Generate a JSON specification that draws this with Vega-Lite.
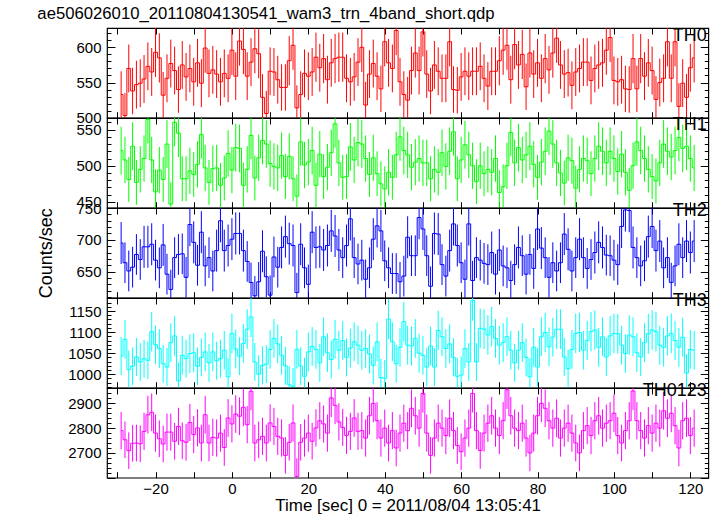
{
"$schema":"https://vega.github.io/schema/vega-lite/v6.json",
"padding":{"left":37,"top":5,"right":8,"bottom":0},
"bounds":"flush",
"title":{"text":"ae506026010_20110804130541_wam3_trn_4band_short.qdp","anchor":"start","fontSize":16.7,"font":"Liberation Sans","fontWeight":"normal","color":"black","offset":3},
"spacing":0,
"data":{"values":[
{"t":-29,"a":533,"ae":33,"b":521,"be":33,"c":695,"ce":33,"d":1043,"de":45,"s":2790,"se":75},
{"t":-28,"a":503,"ae":32,"b":508,"be":32,"c":664,"ce":32,"d":1083,"de":46,"s":2753,"se":74},
{"t":-27,"a":570,"ae":34,"b":481,"be":31,"c":651,"ce":32,"d":1011,"de":45,"s":2709,"se":74},
{"t":-26,"a":538,"ae":33,"b":527,"be":33,"c":657,"ce":32,"d":1019,"de":45,"s":2739,"se":74},
{"t":-25,"a":547,"ae":34,"b":477,"be":31,"c":677,"ce":32,"d":1041,"de":45,"s":2740,"se":74},
{"t":-24,"a":549,"ae":34,"b":495,"be":32,"c":669,"ce":32,"d":1029,"de":45,"s":2737,"se":74},
{"t":-23,"a":555,"ae":34,"b":510,"be":32,"c":689,"ce":33,"d":1037,"de":45,"s":2787,"se":75},
{"t":-22,"a":573,"ae":34,"b":564,"be":33,"c":689,"ce":33,"d":1033,"de":45,"s":2854,"se":76},
{"t":-21,"a":565,"ae":34,"b":508,"be":32,"c":693,"ce":33,"d":1101,"de":47,"s":2864,"se":76},
{"t":-20,"a":593,"ae":35,"b":464,"be":31,"c":668,"ce":32,"d":1070,"de":46,"s":2780,"se":75},
{"t":-19,"a":585,"ae":35,"b":494,"be":32,"c":656,"ce":32,"d":1061,"de":46,"s":2757,"se":74},
{"t":-18,"a":532,"ae":33,"b":481,"be":31,"c":692,"ce":33,"d":1025,"de":45,"s":2736,"se":74},
{"t":-17,"a":556,"ae":34,"b":530,"be":33,"c":646,"ce":32,"d":1017,"de":45,"s":2784,"se":75},
{"t":-16,"a":577,"ae":34,"b":447,"be":30,"c":622,"ce":31,"d":1075,"de":46,"s":2784,"se":75},
{"t":-15,"a":567,"ae":34,"b":560,"be":33,"c":672,"ce":32,"d":1091,"de":47,"s":2747,"se":74},
{"t":-14,"a":540,"ae":33,"b":545,"be":33,"c":677,"ce":32,"d":984,"de":44,"s":2807,"se":75},
{"t":-13,"a":575,"ae":34,"b":482,"be":31,"c":678,"ce":32,"d":1045,"de":46,"s":2749,"se":74},
{"t":-12,"a":558,"ae":34,"b":482,"be":31,"c":641,"ce":32,"d":1037,"de":45,"s":2743,"se":74},
{"t":-11,"a":570,"ae":34,"b":493,"be":32,"c":724,"ce":34,"d":1049,"de":46,"s":2823,"se":75},
{"t":-10,"a":551,"ae":34,"b":488,"be":31,"c":696,"ce":33,"d":1051,"de":46,"s":2774,"se":75},
{"t":-9,"a":578,"ae":34,"b":502,"be":32,"c":660,"ce":32,"d":1019,"de":45,"s":2801,"se":75},
{"t":-8,"a":549,"ae":34,"b":543,"be":33,"c":712,"ce":33,"d":1040,"de":45,"s":2740,"se":74},
{"t":-7,"a":599,"ae":35,"b":497,"be":32,"c":659,"ce":32,"d":1053,"de":46,"s":2854,"se":76},
{"t":-6,"a":563,"ae":34,"b":477,"be":31,"c":672,"ce":32,"d":1027,"de":45,"s":2740,"se":74},
{"t":-5,"a":568,"ae":34,"b":496,"be":32,"c":651,"ce":32,"d":1053,"de":46,"s":2763,"se":75},
{"t":-4,"a":562,"ae":34,"b":497,"be":32,"c":683,"ce":33,"d":1032,"de":45,"s":2760,"se":75},
{"t":-3,"a":551,"ae":34,"b":473,"be":31,"c":730,"ce":34,"d":1037,"de":45,"s":2780,"se":75},
{"t":-2,"a":563,"ae":34,"b":483,"be":31,"c":683,"ce":33,"d":1057,"de":46,"s":2722,"se":74},
{"t":-1,"a":556,"ae":34,"b":517,"be":32,"c":691,"ce":33,"d":994,"de":44,"s":2841,"se":76},
{"t":0,"a":596,"ae":35,"b":494,"be":32,"c":701,"ce":33,"d":1097,"de":47,"s":2817,"se":75},
{"t":1,"a":559,"ae":34,"b":525,"be":33,"c":710,"ce":33,"d":1060,"de":46,"s":2857,"se":76},
{"t":2,"a":609,"ae":35,"b":524,"be":33,"c":710,"ce":33,"d":1043,"de":45,"s":2848,"se":76},
{"t":3,"a":597,"ae":35,"b":473,"be":31,"c":683,"ce":33,"d":1073,"de":46,"s":2884,"se":76},
{"t":4,"a":559,"ae":34,"b":495,"be":32,"c":666,"ce":32,"d":1107,"de":47,"s":2814,"se":75},
{"t":5,"a":579,"ae":34,"b":542,"be":33,"c":633,"ce":31,"d":1136,"de":48,"s":2949,"se":77},
{"t":6,"a":598,"ae":35,"b":483,"be":31,"c":612,"ce":31,"d":1029,"de":45,"s":2740,"se":74},
{"t":7,"a":591,"ae":35,"b":511,"be":32,"c":634,"ce":31,"d":1000,"de":45,"s":2753,"se":74},
{"t":8,"a":529,"ae":33,"b":535,"be":33,"c":682,"ce":33,"d":1021,"de":45,"s":2767,"se":75},
{"t":9,"a":506,"ae":32,"b":530,"be":33,"c":642,"ce":32,"d":1024,"de":45,"s":2740,"se":74},
{"t":10,"a":566,"ae":34,"b":503,"be":32,"c":613,"ce":31,"d":1059,"de":46,"s":2821,"se":75},
{"t":11,"a":565,"ae":34,"b":499,"be":32,"c":673,"ce":32,"d":1085,"de":46,"s":2807,"se":75},
{"t":12,"a":554,"ae":34,"b":497,"be":32,"c":657,"ce":32,"d":1072,"de":46,"s":2767,"se":75},
{"t":13,"a":543,"ae":33,"b":514,"be":32,"c":688,"ce":33,"d":1045,"de":46,"s":2760,"se":75},
{"t":14,"a":543,"ae":33,"b":485,"be":31,"c":705,"ce":33,"d":1020,"de":45,"s":2690,"se":74},
{"t":15,"a":581,"ae":35,"b":513,"be":32,"c":694,"ce":33,"d":975,"de":44,"s":2743,"se":74},
{"t":16,"a":603,"ae":35,"b":482,"be":31,"c":691,"ce":33,"d":971,"de":44,"s":2821,"se":75},
{"t":17,"a":514,"ae":32,"b":458,"be":30,"c":617,"ce":31,"d":1059,"de":46,"s":2605,"se":73},
{"t":18,"a":533,"ae":33,"b":533,"be":33,"c":693,"ce":33,"d":1019,"de":45,"s":2743,"se":74},
{"t":19,"a":563,"ae":34,"b":501,"be":32,"c":656,"ce":32,"d":995,"de":44,"s":2760,"se":75},
{"t":20,"a":559,"ae":34,"b":505,"be":32,"c":630,"ce":31,"d":1053,"de":46,"s":2780,"se":75},
{"t":21,"a":565,"ae":34,"b":521,"be":33,"c":712,"ce":33,"d":1066,"de":46,"s":2747,"se":74},
{"t":22,"a":586,"ae":35,"b":473,"be":31,"c":688,"ce":33,"d":1059,"de":46,"s":2801,"se":75},
{"t":23,"a":571,"ae":34,"b":516,"be":32,"c":689,"ce":33,"d":1027,"de":45,"s":2830,"se":75},
{"t":24,"a":584,"ae":35,"b":485,"be":31,"c":684,"ce":33,"d":1089,"de":46,"s":2817,"se":75},
{"t":25,"a":554,"ae":34,"b":498,"be":32,"c":691,"ce":33,"d":1051,"de":46,"s":2780,"se":75},
{"t":26,"a":578,"ae":34,"b":518,"be":32,"c":714,"ce":33,"d":1035,"de":45,"s":2922,"se":77},
{"t":27,"a":584,"ae":35,"b":558,"be":33,"c":706,"ce":33,"d":1083,"de":46,"s":2892,"se":76},
{"t":28,"a":586,"ae":35,"b":504,"be":32,"c":684,"ce":33,"d":1057,"de":46,"s":2825,"se":75},
{"t":29,"a":586,"ae":35,"b":484,"be":31,"c":672,"ce":32,"d":1080,"de":46,"s":2803,"se":75},
{"t":30,"a":556,"ae":34,"b":485,"be":31,"c":691,"ce":33,"d":1040,"de":45,"s":2771,"se":75},
{"t":31,"a":551,"ae":34,"b":526,"be":33,"c":733,"ce":34,"d":1062,"de":46,"s":2787,"se":75},
{"t":32,"a":558,"ae":34,"b":508,"be":32,"c":672,"ce":32,"d":1077,"de":46,"s":2841,"se":76},
{"t":33,"a":579,"ae":34,"b":532,"be":33,"c":662,"ce":32,"d":1069,"de":46,"s":2787,"se":75},
{"t":34,"a":600,"ae":35,"b":530,"be":33,"c":668,"ce":32,"d":1057,"de":46,"s":2790,"se":75},
{"t":35,"a":518,"ae":33,"b":510,"be":32,"c":638,"ce":31,"d":1061,"de":46,"s":2760,"se":75},
{"t":36,"a":562,"ae":34,"b":488,"be":31,"c":656,"ce":32,"d":1048,"de":46,"s":2850,"se":76},
{"t":37,"a":577,"ae":34,"b":511,"be":32,"c":701,"ce":33,"d":1021,"de":45,"s":2900,"se":76},
{"t":38,"a":559,"ae":34,"b":489,"be":31,"c":722,"ce":34,"d":1077,"de":46,"s":2830,"se":75},
{"t":39,"a":541,"ae":33,"b":475,"be":31,"c":714,"ce":33,"d":992,"de":44,"s":2760,"se":75},
{"t":40,"a":608,"ae":35,"b":468,"be":31,"c":667,"ce":32,"d":990,"de":44,"s":2800,"se":75},
{"t":41,"a":578,"ae":34,"b":491,"be":32,"c":656,"ce":32,"d":1131,"de":48,"s":2740,"se":74},
{"t":42,"a":570,"ae":34,"b":484,"be":31,"c":647,"ce":32,"d":1077,"de":46,"s":2790,"se":75},
{"t":43,"a":624,"ae":35,"b":515,"be":32,"c":647,"ce":32,"d":1025,"de":45,"s":2720,"se":74},
{"t":44,"a":551,"ae":34,"b":540,"be":33,"c":634,"ce":31,"d":1064,"de":46,"s":2780,"se":75},
{"t":45,"a":533,"ae":33,"b":521,"be":33,"c":643,"ce":32,"d":1125,"de":47,"s":2820,"se":75},
{"t":46,"a":525,"ae":33,"b":515,"be":32,"c":704,"ce":33,"d":1069,"de":46,"s":2790,"se":75},
{"t":47,"a":567,"ae":34,"b":498,"be":32,"c":675,"ce":32,"d":1067,"de":46,"s":2880,"se":76},
{"t":48,"a":592,"ae":35,"b":505,"be":32,"c":675,"ce":32,"d":1085,"de":46,"s":2850,"se":76},
{"t":49,"a":567,"ae":34,"b":510,"be":32,"c":735,"ce":34,"d":1050,"de":46,"s":2800,"se":75},
{"t":50,"a":622,"ae":35,"b":504,"be":32,"c":717,"ce":33,"d":1045,"de":46,"s":2940,"se":77},
{"t":51,"a":562,"ae":34,"b":504,"be":32,"c":675,"ce":32,"d":1017,"de":45,"s":2780,"se":75},
{"t":52,"a":538,"ae":33,"b":482,"be":31,"c":627,"ce":31,"d":1067,"de":46,"s":2690,"se":74},
{"t":53,"a":575,"ae":34,"b":495,"be":32,"c":710,"ce":33,"d":1017,"de":45,"s":2760,"se":75},
{"t":54,"a":566,"ae":34,"b":491,"be":32,"c":709,"ce":33,"d":1104,"de":47,"s":2820,"se":75},
{"t":55,"a":556,"ae":34,"b":518,"be":32,"c":661,"ce":32,"d":1089,"de":46,"s":2800,"se":75},
{"t":56,"a":556,"ae":34,"b":499,"be":32,"c":643,"ce":32,"d":1061,"de":46,"s":2770,"se":75},
{"t":57,"a":608,"ae":35,"b":520,"be":33,"c":683,"ce":33,"d":1072,"de":46,"s":2840,"se":76},
{"t":58,"a":540,"ae":33,"b":547,"be":33,"c":725,"ce":34,"d":1040,"de":45,"s":2790,"se":75},
{"t":59,"a":539,"ae":33,"b":482,"be":31,"c":691,"ce":33,"d":995,"de":44,"s":2730,"se":74},
{"t":60,"a":558,"ae":34,"b":508,"be":32,"c":664,"ce":32,"d":998,"de":44,"s":2705,"se":74},
{"t":61,"a":566,"ae":34,"b":529,"be":33,"c":638,"ce":31,"d":1061,"de":46,"s":2760,"se":75},
{"t":62,"a":559,"ae":34,"b":515,"be":32,"c":725,"ce":34,"d":1029,"de":45,"s":2800,"se":75},
{"t":63,"a":566,"ae":34,"b":500,"be":32,"c":636,"ce":31,"d":1175,"de":48,"s":2940,"se":77},
{"t":64,"a":566,"ae":34,"b":478,"be":31,"c":672,"ce":32,"d":1029,"de":45,"s":2790,"se":75},
{"t":65,"a":573,"ae":34,"b":500,"be":32,"c":668,"ce":32,"d":1109,"de":47,"s":2710,"se":74},
{"t":66,"a":556,"ae":34,"b":489,"be":31,"c":663,"ce":32,"d":1107,"de":47,"s":2780,"se":75},
{"t":67,"a":545,"ae":34,"b":495,"be":32,"c":661,"ce":32,"d":1093,"de":47,"s":2820,"se":75},
{"t":68,"a":566,"ae":34,"b":491,"be":32,"c":680,"ce":33,"d":1113,"de":47,"s":2850,"se":76},
{"t":69,"a":566,"ae":34,"b":510,"be":32,"c":646,"ce":32,"d":1085,"de":46,"s":2800,"se":75},
{"t":70,"a":581,"ae":35,"b":463,"be":31,"c":684,"ce":33,"d":1069,"de":46,"s":2770,"se":75},
{"t":71,"a":596,"ae":35,"b":471,"be":31,"c":659,"ce":32,"d":1075,"de":46,"s":2830,"se":75},
{"t":72,"a":603,"ae":35,"b":500,"be":32,"c":656,"ce":32,"d":1089,"de":46,"s":2955,"se":77},
{"t":73,"a":554,"ae":34,"b":546,"be":33,"c":636,"ce":31,"d":1057,"de":46,"s":2850,"se":76},
{"t":74,"a":604,"ae":35,"b":504,"be":32,"c":661,"ce":32,"d":1027,"de":45,"s":2800,"se":75},
{"t":75,"a":575,"ae":34,"b":525,"be":33,"c":688,"ce":33,"d":1057,"de":46,"s":2790,"se":75},
{"t":76,"a":590,"ae":35,"b":508,"be":32,"c":675,"ce":32,"d":1075,"de":46,"s":2820,"se":75},
{"t":77,"a":544,"ae":33,"b":515,"be":32,"c":646,"ce":32,"d":1040,"de":45,"s":2760,"se":75},
{"t":78,"a":592,"ae":35,"b":527,"be":33,"c":677,"ce":32,"d":994,"de":44,"s":2700,"se":74},
{"t":79,"a":562,"ae":34,"b":502,"be":32,"c":655,"ce":32,"d":1064,"de":46,"s":2780,"se":75},
{"t":80,"a":578,"ae":34,"b":484,"be":31,"c":717,"ce":33,"d":1017,"de":45,"s":2850,"se":76},
{"t":81,"a":556,"ae":34,"b":505,"be":32,"c":687,"ce":33,"d":1089,"de":46,"s":2900,"se":76},
{"t":82,"a":584,"ae":35,"b":520,"be":33,"c":672,"ce":32,"d":1099,"de":47,"s":2880,"se":76},
{"t":83,"a":568,"ae":34,"b":548,"be":33,"c":641,"ce":32,"d":1065,"de":46,"s":2830,"se":75},
{"t":84,"a":592,"ae":35,"b":530,"be":33,"c":664,"ce":32,"d":1088,"de":46,"s":2800,"se":75},
{"t":85,"a":613,"ae":35,"b":504,"be":32,"c":651,"ce":32,"d":1107,"de":47,"s":2840,"se":76},
{"t":86,"a":575,"ae":34,"b":490,"be":32,"c":664,"ce":32,"d":1107,"de":47,"s":2760,"se":75},
{"t":87,"a":562,"ae":34,"b":476,"be":31,"c":709,"ce":33,"d":1041,"de":45,"s":2800,"se":75},
{"t":88,"a":564,"ae":34,"b":511,"be":32,"c":685,"ce":33,"d":1013,"de":45,"s":2820,"se":75},
{"t":89,"a":546,"ae":34,"b":507,"be":32,"c":651,"ce":32,"d":1059,"de":46,"s":2780,"se":75},
{"t":90,"a":565,"ae":34,"b":469,"be":31,"c":672,"ce":32,"d":1097,"de":47,"s":2740,"se":74},
{"t":91,"a":570,"ae":34,"b":495,"be":32,"c":701,"ce":33,"d":1099,"de":47,"s":2700,"se":74},
{"t":92,"a":579,"ae":34,"b":510,"be":32,"c":672,"ce":32,"d":1057,"de":46,"s":2790,"se":75},
{"t":93,"a":579,"ae":34,"b":507,"be":32,"c":655,"ce":32,"d":1080,"de":46,"s":2810,"se":75},
{"t":94,"a":553,"ae":34,"b":489,"be":31,"c":669,"ce":32,"d":1101,"de":47,"s":2770,"se":75},
{"t":95,"a":570,"ae":34,"b":510,"be":32,"c":680,"ce":33,"d":1105,"de":47,"s":2830,"se":75},
{"t":96,"a":575,"ae":34,"b":527,"be":33,"c":696,"ce":33,"d":1064,"de":46,"s":2850,"se":76},
{"t":97,"a":578,"ae":34,"b":520,"be":33,"c":688,"ce":33,"d":1089,"de":46,"s":2800,"se":75},
{"t":98,"a":596,"ae":35,"b":504,"be":32,"c":676,"ce":32,"d":1041,"de":45,"s":2820,"se":75},
{"t":99,"a":614,"ae":35,"b":520,"be":33,"c":675,"ce":32,"d":1091,"de":47,"s":2830,"se":75},
{"t":100,"a":553,"ae":34,"b":510,"be":32,"c":668,"ce":32,"d":1097,"de":47,"s":2860,"se":76},
{"t":101,"a":551,"ae":34,"b":492,"be":32,"c":661,"ce":32,"d":1096,"de":47,"s":2770,"se":75},
{"t":102,"a":554,"ae":34,"b":516,"be":32,"c":721,"ce":34,"d":1069,"de":46,"s":2740,"se":74},
{"t":103,"a":541,"ae":33,"b":491,"be":32,"c":747,"ce":34,"d":1049,"de":46,"s":2790,"se":75},
{"t":104,"a":540,"ae":33,"b":466,"be":31,"c":746,"ce":34,"d":1093,"de":47,"s":2830,"se":75},
{"t":105,"a":584,"ae":35,"b":500,"be":32,"c":688,"ce":33,"d":1089,"de":46,"s":2950,"se":77},
{"t":106,"a":541,"ae":33,"b":533,"be":33,"c":672,"ce":32,"d":1051,"de":46,"s":2830,"se":75},
{"t":107,"a":584,"ae":35,"b":521,"be":33,"c":659,"ce":32,"d":1041,"de":45,"s":2790,"se":75},
{"t":108,"a":559,"ae":34,"b":510,"be":32,"c":667,"ce":32,"d":1075,"de":46,"s":2760,"se":75},
{"t":109,"a":578,"ae":34,"b":495,"be":32,"c":705,"ce":33,"d":1096,"de":47,"s":2810,"se":75},
{"t":110,"a":567,"ae":34,"b":485,"be":31,"c":721,"ce":34,"d":1105,"de":47,"s":2780,"se":75},
{"t":111,"a":526,"ae":33,"b":479,"be":31,"c":683,"ce":33,"d":1101,"de":47,"s":2820,"se":75},
{"t":112,"a":550,"ae":34,"b":504,"be":32,"c":698,"ce":33,"d":1069,"de":46,"s":2800,"se":75},
{"t":113,"a":556,"ae":34,"b":530,"be":33,"c":656,"ce":32,"d":1064,"de":46,"s":2870,"se":76},
{"t":114,"a":608,"ae":35,"b":520,"be":33,"c":672,"ce":32,"d":1091,"de":47,"s":2840,"se":76},
{"t":115,"a":556,"ae":34,"b":512,"be":32,"c":633,"ce":31,"d":1097,"de":47,"s":2860,"se":76},
{"t":116,"a":608,"ae":35,"b":521,"be":33,"c":659,"ce":32,"d":1080,"de":46,"s":2810,"se":75},
{"t":117,"a":516,"ae":33,"b":539,"be":33,"c":693,"ce":33,"d":1064,"de":46,"s":2720,"se":74},
{"t":118,"a":549,"ae":34,"b":524,"be":33,"c":672,"ce":32,"d":1088,"de":46,"s":2830,"se":75},
{"t":119,"a":529,"ae":33,"b":527,"be":33,"c":698,"ce":33,"d":1003,"de":45,"s":2840,"se":76},
{"t":120,"a":571,"ae":34,"b":510,"be":32,"c":680,"ce":33,"d":1059,"de":46,"s":2770,"se":75},
{"t":121,"a":585,"ae":35,"b":497,"be":32,"c":698,"ce":33,"d":1057,"de":46,"s":2800,"se":75}
]},
"vconcat":[
{"width":601.3,"height":89.7,
 "title":{"text":"TH0","anchor":"end","offset":-19,"fontSize":18,"font":"Liberation Sans","fontWeight":"normal","color":"black","dx":-2},
 "layer":[
  {"mark":{"type":"errorbar","ticks":false,"color":"#ff0000","thickness":1,"clip":true},
   "encoding":{
    "x":{"field":"t","type":"quantitative","scale":{"domain":[-32.7,124.7],"nice":false,"zero":false},"axis":{"orient":"bottom","values":[-30,-20,-10,0,10,20,30,40,50,60,70,80,90,100,110,120],"tickSize":-6,"labels":false,"title":null}},
    "y":{"field":"a","type":"quantitative","scale":{"domain":[500,627.5],"nice":false,"zero":false},"axis":{"orient":"left","format":"d","values":[500,510,520,530,540,550,560,570,580,590,600,610,620],"tickSize":{"condition":{"test":"datum.value % 50 === 0","value":-8},"value":-4},"labelExpr":"datum.value % 50 === 0 ? datum.label : ''","labelPadding":14,"title":null}},
    "yError":{"field":"ae"}}},
  {"mark":{"type":"line","interpolate":"step","color":"#ff0000","strokeWidth":1,"clip":true},
   "encoding":{
    "x":{"field":"t","type":"quantitative","scale":{"domain":[-32.7,124.7],"nice":false,"zero":false},"axis":{"orient":"top","values":[-30,-20,-10,0,10,20,30,40,50,60,70,80,90,100,110,120],"tickSize":-6,"labels":false,"title":null}},
    "y":{"field":"a","type":"quantitative","scale":{"domain":[500,627.5],"nice":false,"zero":false},"axis":{"orient":"right","values":[500,510,520,530,540,550,560,570,580,590,600,610,620],"tickSize":{"condition":{"test":"datum.value % 50 === 0","value":-8},"value":-4},"labels":false,"title":null}}}}
 ],
 "resolve":{"axis":{"x":"independent","y":"independent"}}},
{"width":601.3,"height":89.7,
 "title":{"text":"TH1","anchor":"end","offset":-19,"fontSize":18,"font":"Liberation Sans","fontWeight":"normal","color":"black","dx":-2},
 "layer":[
  {"mark":{"type":"errorbar","ticks":false,"color":"#00ff00","thickness":1,"clip":true},
   "encoding":{
    "x":{"field":"t","type":"quantitative","scale":{"domain":[-32.7,124.7],"nice":false,"zero":false},"axis":{"orient":"bottom","values":[-30,-20,-10,0,10,20,30,40,50,60,70,80,90,100,110,120],"tickSize":-6,"labels":false,"title":null}},
    "y":{"field":"b","type":"quantitative","scale":{"domain":[442,566],"nice":false,"zero":false},"axis":{"orient":"left","format":"d","values":[450,460,470,480,490,500,510,520,530,540,550,560],"tickSize":{"condition":{"test":"datum.value % 50 === 0","value":-8},"value":-4},"labelExpr":"datum.value % 50 === 0 ? datum.label : ''","labelPadding":14,"title":null}},
    "yError":{"field":"be"}}},
  {"mark":{"type":"line","interpolate":"step","color":"#00ff00","strokeWidth":1,"clip":true},
   "encoding":{
    "x":{"field":"t","type":"quantitative","scale":{"domain":[-32.7,124.7],"nice":false,"zero":false},"axis":{"orient":"top","values":[-30,-20,-10,0,10,20,30,40,50,60,70,80,90,100,110,120],"tickSize":-6,"labels":false,"title":null}},
    "y":{"field":"b","type":"quantitative","scale":{"domain":[442,566],"nice":false,"zero":false},"axis":{"orient":"right","values":[450,460,470,480,490,500,510,520,530,540,550,560],"tickSize":{"condition":{"test":"datum.value % 50 === 0","value":-8},"value":-4},"labels":false,"title":null}}}}
 ],
 "resolve":{"axis":{"x":"independent","y":"independent"}}},
{"width":601.3,"height":89.7,
 "title":{"text":"TH2","anchor":"end","offset":-19,"fontSize":18,"font":"Liberation Sans","fontWeight":"normal","color":"black","dx":-2},
 "layer":[
  {"mark":{"type":"errorbar","ticks":false,"color":"#0000ff","thickness":1,"clip":true},
   "encoding":{
    "x":{"field":"t","type":"quantitative","scale":{"domain":[-32.7,124.7],"nice":false,"zero":false},"axis":{"orient":"bottom","values":[-30,-20,-10,0,10,20,30,40,50,60,70,80,90,100,110,120],"tickSize":-6,"labels":false,"title":null}},
    "y":{"field":"c","type":"quantitative","scale":{"domain":[609,750],"nice":false,"zero":false},"axis":{"orient":"left","format":"d","values":[610,620,630,640,650,660,670,680,690,700,710,720,730,740,750],"tickSize":{"condition":{"test":"datum.value % 50 === 0","value":-8},"value":-4},"labelExpr":"datum.value % 50 === 0 ? datum.label : ''","labelPadding":14,"title":"Counts/sec","titleFontSize":18,"titlePadding":20}},
    "yError":{"field":"ce"}}},
  {"mark":{"type":"line","interpolate":"step","color":"#0000ff","strokeWidth":1,"clip":true},
   "encoding":{
    "x":{"field":"t","type":"quantitative","scale":{"domain":[-32.7,124.7],"nice":false,"zero":false},"axis":{"orient":"top","values":[-30,-20,-10,0,10,20,30,40,50,60,70,80,90,100,110,120],"tickSize":-6,"labels":false,"title":null}},
    "y":{"field":"c","type":"quantitative","scale":{"domain":[609,750],"nice":false,"zero":false},"axis":{"orient":"right","values":[610,620,630,640,650,660,670,680,690,700,710,720,730,740,750],"tickSize":{"condition":{"test":"datum.value % 50 === 0","value":-8},"value":-4},"labels":false,"title":null}}}}
 ],
 "resolve":{"axis":{"x":"independent","y":"independent"}}},
{"width":601.3,"height":89.7,
 "title":{"text":"TH3","anchor":"end","offset":-19,"fontSize":18,"font":"Liberation Sans","fontWeight":"normal","color":"black","dx":-2},
 "layer":[
  {"mark":{"type":"errorbar","ticks":false,"color":"#00ffff","thickness":1,"clip":true},
   "encoding":{
    "x":{"field":"t","type":"quantitative","scale":{"domain":[-32.7,124.7],"nice":false,"zero":false},"axis":{"orient":"bottom","values":[-30,-20,-10,0,10,20,30,40,50,60,70,80,90,100,110,120],"tickSize":-6,"labels":false,"title":null}},
    "y":{"field":"d","type":"quantitative","scale":{"domain":[968,1181],"nice":false,"zero":false},"axis":{"orient":"left","format":"d","values":[970,980,990,1000,1010,1020,1030,1040,1050,1060,1070,1080,1090,1100,1110,1120,1130,1140,1150,1160,1170,1180],"tickSize":{"condition":{"test":"datum.value % 50 === 0","value":-8},"value":-4},"labelExpr":"datum.value % 50 === 0 ? datum.label : ''","labelPadding":14,"title":null}},
    "yError":{"field":"de"}}},
  {"mark":{"type":"line","interpolate":"step","color":"#00ffff","strokeWidth":1,"clip":true},
   "encoding":{
    "x":{"field":"t","type":"quantitative","scale":{"domain":[-32.7,124.7],"nice":false,"zero":false},"axis":{"orient":"top","values":[-30,-20,-10,0,10,20,30,40,50,60,70,80,90,100,110,120],"tickSize":-6,"labels":false,"title":null}},
    "y":{"field":"d","type":"quantitative","scale":{"domain":[968,1181],"nice":false,"zero":false},"axis":{"orient":"right","values":[970,980,990,1000,1010,1020,1030,1040,1050,1060,1070,1080,1090,1100,1110,1120,1130,1140,1150,1160,1170,1180],"tickSize":{"condition":{"test":"datum.value % 50 === 0","value":-8},"value":-4},"labels":false,"title":null}}}}
 ],
 "resolve":{"axis":{"x":"independent","y":"independent"}}},
{"width":601.3,"height":89.7,
 "title":{"text":"TH0123","anchor":"end","offset":-19,"fontSize":18,"font":"Liberation Sans","fontWeight":"normal","color":"black","dx":-2},
 "layer":[
  {"mark":{"type":"errorbar","ticks":false,"color":"#ff00ff","thickness":1,"clip":true},
   "encoding":{
    "x":{"field":"t","type":"quantitative","scale":{"domain":[-32.7,124.7],"nice":false,"zero":false},"axis":{"orient":"bottom","format":"d","values":[-30,-20,-10,0,10,20,30,40,50,60,70,80,90,100,110,120],"tickSize":-6,"labels":true,"labelExpr":"datum.value % 20 === 0 ? datum.label : ''","labelPadding":10,"title":"Time [sec] 0 = 2011/08/04 13:05:41","titleFontSize":17,"titlePadding":1}},
    "y":{"field":"s","type":"quantitative","scale":{"domain":[2600,2962],"nice":false,"zero":false},"axis":{"orient":"left","format":"d","values":[2600,2620,2640,2660,2680,2700,2720,2740,2760,2780,2800,2820,2840,2860,2880,2900,2920,2940,2960],"tickSize":{"condition":{"test":"datum.value % 100 === 0","value":-8},"value":-4},"labelExpr":"datum.value % 100 === 0 && datum.value > 2600 ? datum.label : ''","labelPadding":14,"title":null}},
    "yError":{"field":"se"}}},
  {"mark":{"type":"line","interpolate":"step","color":"#ff00ff","strokeWidth":1,"clip":true},
   "encoding":{
    "x":{"field":"t","type":"quantitative","scale":{"domain":[-32.7,124.7],"nice":false,"zero":false},"axis":{"orient":"top","values":[-30,-20,-10,0,10,20,30,40,50,60,70,80,90,100,110,120],"tickSize":-6,"labels":false,"title":null}},
    "y":{"field":"s","type":"quantitative","scale":{"domain":[2600,2962],"nice":false,"zero":false},"axis":{"orient":"right","values":[2600,2620,2640,2660,2680,2700,2720,2740,2760,2780,2800,2820,2840,2860,2880,2900,2920,2940,2960],"tickSize":{"condition":{"test":"datum.value % 100 === 0","value":-8},"value":-4},"labels":false,"title":null}}}}
 ],
 "resolve":{"axis":{"x":"independent","y":"independent"}}}
],
"config":{
 "font":"Liberation Sans",
 "view":{"stroke":"black","strokeWidth":1.2},
 "axis":{"domain":false,"grid":false,"tickColor":"black","tickWidth":1,"labelColor":"black","labelFont":"Liberation Sans","labelFontSize":15,"labelOverlap":false,"labelFlush":false,"titleFont":"Liberation Sans","titleFontWeight":"normal","titleColor":"black","titleFontSize":17}
}
}
